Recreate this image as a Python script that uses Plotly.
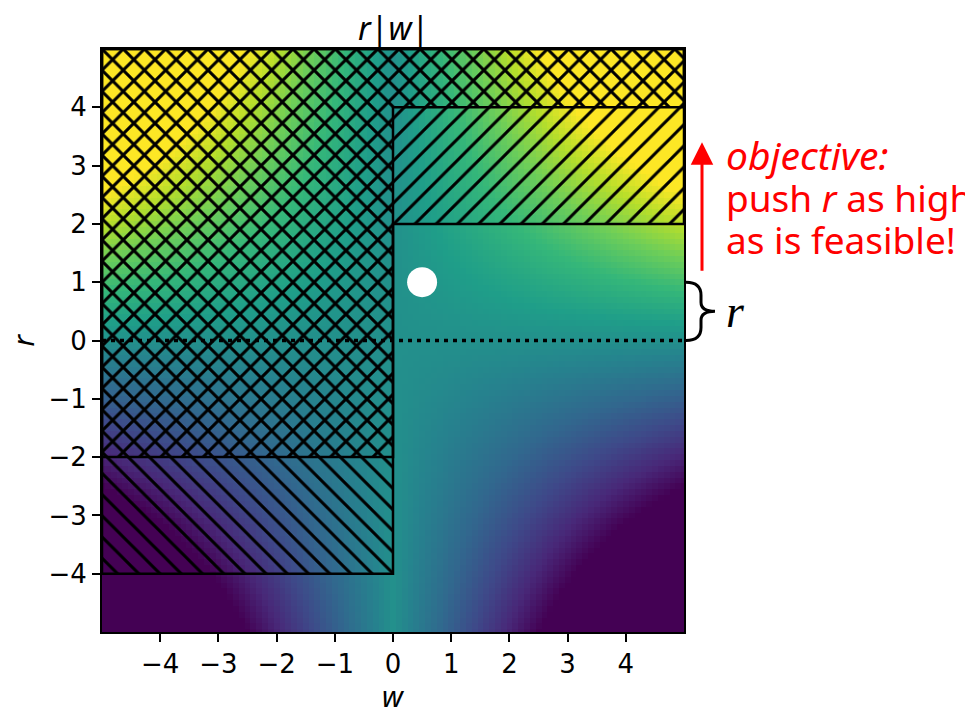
import numpy as np
import plotly.graph_objects as go

# ---- data ----
w_vals = np.linspace(-5, 5, 101)          # grid of w
r_vals = np.linspace(-5, 5, 101)          # grid of r
z_vals = r_vals[:, None] * np.abs(w_vals[None, :])   # r|w|
z_lim = [-12.5, 12.5]

tick_vals = [-4, -3, -2, -1, 0, 1, 2, 3, 4]

# hatched constraint regions (step boundaries at w = 0)
region_a_w = [-5, 0, 0, 5, 5, -5, -5]     # '/' hatched
region_a_r = [-2, -2, 2, 2, 5, 5, -2]
region_b_w = [-5, 0, 0, 5, 5, -5, -5]     # '\' hatched
region_b_r = [-4, -4, 4, 4, 5, 5, -4]

point_w = [0.5]
point_r = [1.0]

zero_w = [-5, 5]
zero_r = [0, 0]

brace_r = [0.0, 1.0]
arrow_r = [1.17, 3.4]

# ---- geometry helpers (pixel layout) ----
W, H = 965, 711
L, R, T, B = 102, 684, 49, 632
PW, PH = R - L, B - T


def px_to_paper_x(px):
    return (px - L) / PW


def r_to_py(r):
    return B - (r + 5) / 10 * PH


def py_to_paper_y(py):
    return (B - py) / PH


fig = go.Figure()

fig.add_trace(go.Heatmap(
    x=w_vals, y=r_vals, z=z_vals, colorscale="Viridis",
    zmin=z_lim[0], zmax=z_lim[1], showscale=False, zsmooth=False,
    hoverinfo="skip"))

for xs, ys, shp in [(region_a_w, region_a_r, "/"), (region_b_w, region_b_r, "\\")]:
    fig.add_trace(go.Scatter(
        x=xs, y=ys, mode="lines", fill="toself",
        fillcolor="rgba(0,0,0,0)",
        fillpattern=dict(shape=shp, fgcolor="black", bgcolor="rgba(0,0,0,0)",
                         fgopacity=1, size=15, solidity=0.2),
        line=dict(color="black", width=2.5), hoverinfo="skip", showlegend=False))

fig.add_trace(go.Scatter(
    x=zero_w, y=zero_r, mode="lines",
    line=dict(color="black", width=3.5, dash="4px,5px"),
    hoverinfo="skip", showlegend=False))

fig.add_trace(go.Scatter(
    x=point_w, y=point_r, mode="markers",
    marker=dict(color="white", size=30, line=dict(width=0)),
    hoverinfo="skip", showlegend=False))

# ---- brace outside plot ----
y_top = r_to_py(brace_r[1])
y_bot = r_to_py(brace_r[0])
y_mid = (y_top + y_bot) / 2
x0, x1, xt = 686, 701, 715


def P(px, py):
    return f"{px_to_paper_x(px):.5f},{py_to_paper_y(py):.5f}"


path = (f"M{P(x0, y_top)} C{P(x0 + 11, y_top)} {P(x1, y_top + 5)} {P(x1, y_top + 13)} "
        f"L{P(x1, y_mid - 9)} C{P(x1, y_mid - 3)} {P(x1 + 5, y_mid)} {P(xt, y_mid)} "
        f"C{P(x1 + 5, y_mid)} {P(x1, y_mid + 3)} {P(x1, y_mid + 9)} "
        f"L{P(x1, y_bot - 13)} C{P(x1, y_bot - 5)} {P(x0 + 11, y_bot)} {P(x0, y_bot)}")
fig.add_shape(type="path", path=path, xref="paper", yref="paper",
              line=dict(color="black", width=3))

annotations = []
# arrow
arrow_x = px_to_paper_x(702)
annotations.append(dict(
    x=arrow_x, y=py_to_paper_y(r_to_py(arrow_r[1])), xref="paper", yref="paper",
    ax=0, ay=r_to_py(arrow_r[0]) - r_to_py(arrow_r[1]), axref="pixel", ayref="pixel",
    text="", showarrow=True, arrowhead=2, arrowsize=1.5, arrowwidth=3,
    arrowcolor="#ff0000"))

for txt, cy, fs in [("<i>objective:</i>", 155, 39), ("push <i>r</i> as high", 197, 37),
                    ("as is feasible!", 239, 37)]:
    annotations.append(dict(
        x=px_to_paper_x(724), y=py_to_paper_y(cy), xref="paper", yref="paper",
        xanchor="left", yanchor="middle", text=txt, showarrow=False,
        font=dict(family="Noto Sans", size=fs, color="#ff0000")))

annotations.append(dict(
    x=px_to_paper_x(724), y=py_to_paper_y(y_mid), xref="paper", yref="paper",
    xanchor="left", yanchor="middle", text="<i>r</i>", showarrow=False,
    font=dict(family="Liberation Serif", size=46, color="black")))

# axis labels / title
annotations.append(dict(
    x=0.5, y=py_to_paper_y(695), xref="paper", yref="paper", xanchor="center",
    yanchor="middle", text="<i>w</i>", showarrow=False,
    font=dict(family="Noto Sans", size=29, color="black")))
annotations.append(dict(
    x=px_to_paper_x(22), y=0.5, xref="paper", yref="paper", xanchor="center",
    yanchor="middle", text="<i>r</i>", showarrow=False, textangle=-90,
    font=dict(family="Noto Sans", size=29, color="black")))
annotations.append(dict(
    x=0.5, y=py_to_paper_y(27), xref="paper", yref="paper", xanchor="center",
    yanchor="middle", text="<i>r</i>|<i>w</i>|", showarrow=False,
    font=dict(family="Noto Sans", size=32, color="black")))

axis_common = dict(
    range=[-5, 5], tickvals=tick_vals, ticks="outside", ticklen=8, tickwidth=2,
    tickcolor="black", showline=True, linecolor="black", linewidth=2, mirror=True,
    showgrid=False, zeroline=False,
    tickfont=dict(family="DejaVu Sans", size=26, color="black"))

fig.update_layout(
    width=W, height=H, margin=dict(l=L, r=W - R, t=T, b=H - B),
    paper_bgcolor="white", plot_bgcolor="white",
    xaxis=dict(**axis_common),
    yaxis=dict(**axis_common),
    annotations=annotations, showlegend=False)

fig.write_html("out.html", config={"displayModeBar": False},
               post_script="document.body.style.margin='0';")
